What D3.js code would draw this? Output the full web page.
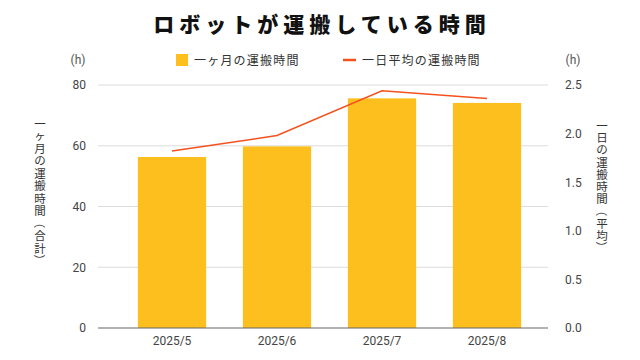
<!DOCTYPE html>
<html><head><meta charset="utf-8">
<script src="https://cdn.jsdelivr.net/npm/d3@7"></script>
<style>
html,body{margin:0;padding:0;background:#fff;}
svg{display:block;}
</style></head>
<body>
<svg id="chart" width="640" height="360"></svg>
<script>
const categories = ["2025/5", "2025/6", "2025/7", "2025/8"];
const monthlyHours = [56.3, 59.8, 75.6, 74.1];
const dailyAvgHours = [1.82, 1.98, 2.44, 2.36];
const leftTicks = [0, 20, 40, 60, 80];
const rightTicks = [0, 0.5, 1.0, 1.5, 2.0, 2.5];
const title = "ロボットが運搬している時間";
const barLabel = "一ヶ月の運搬時間";
const lineLabel = "一日平均の運搬時間";
const leftTitle = "一ヶ月の運搬時間（合計）";
const rightTitle = "一日の運搬時間（平均）";

const svg = d3.select("#chart");
const jp = "'Noto Sans CJK JP', 'Noto Sans', sans-serif";
const num = "Roboto, 'Liberation Sans', sans-serif";
const barColor = "#FCBF1E";
const lineColor = "#F4511E";

const plotL = 98, plotR = 548, plotT = 85, plotB = 328;
const x = d3.scaleBand().domain(categories).range([119.5, 539.5]).paddingInner(0.35).paddingOuter(0.175);
const yL = d3.scaleLinear().domain([0, 80]).range([plotB, plotT]);
const yR = d3.scaleLinear().domain([0, 2.5]).range([plotB, plotT]);

// title
svg.append("text").attr("x", 322).attr("y", 32).attr("text-anchor", "middle")
  .attr("font-family", jp).attr("font-weight", 900).attr("font-size", 21)
  .attr("letter-spacing", 5).attr("fill", "#111").text(title);

// gridlines
svg.append("g").selectAll("line").data(leftTicks.filter(d => d > 0)).join("line")
  .attr("x1", plotL).attr("x2", plotR)
  .attr("y1", d => yL(d)).attr("y2", d => yL(d))
  .attr("stroke", "#dcdcdc").attr("stroke-width", 1);

// left axis
const gL = svg.append("g").attr("transform", `translate(${plotL},0)`)
  .call(d3.axisLeft(yL).tickValues(leftTicks).tickSize(0).tickPadding(12));
gL.select(".domain").remove();
gL.selectAll("text").attr("font-family", num).attr("font-size", 12).attr("fill", "#444");

// right axis
const gR = svg.append("g").attr("transform", `translate(${plotR},0)`)
  .call(d3.axisRight(yR).tickValues(rightTicks).tickFormat(d3.format(".1f")).tickSize(0).tickPadding(17));
gR.select(".domain").remove();
gR.selectAll("text").attr("font-family", num).attr("font-size", 12).attr("fill", "#444");

// bars
svg.append("g").selectAll("rect").data(categories).join("rect")
  .attr("x", d => x(d)).attr("width", x.bandwidth())
  .attr("y", (d, i) => yL(monthlyHours[i]))
  .attr("height", (d, i) => yL(0) - yL(monthlyHours[i]))
  .attr("fill", barColor);

// baseline
svg.append("line").attr("x1", plotL).attr("x2", plotR).attr("y1", yL(0)).attr("y2", yL(0))
  .attr("stroke", "#666").attr("stroke-width", 1.2);

// line
const line = d3.line().x((d, i) => x(categories[i]) + x.bandwidth() / 2).y(d => yR(d));
svg.append("path").datum(dailyAvgHours).attr("d", line)
  .attr("fill", "none").attr("stroke", lineColor).attr("stroke-width", 1.5);

// x axis labels
const gX = svg.append("g").attr("transform", `translate(0,${plotB})`)
  .call(d3.axisBottom(x).tickSize(0).tickPadding(8));
gX.select(".domain").remove();
gX.selectAll("text").attr("font-family", num).attr("font-size", 12).attr("fill", "#444");

// (h) units
svg.append("text").attr("x", 78).attr("y", 64).attr("text-anchor", "middle")
  .attr("font-family", num).attr("font-size", 12).attr("fill", "#555").text("(h)");
svg.append("text").attr("x", 573).attr("y", 64).attr("text-anchor", "middle")
  .attr("font-family", num).attr("font-size", 12).attr("fill", "#555").text("(h)");

// legend
svg.append("rect").attr("x", 176).attr("y", 54).attr("width", 12).attr("height", 12).attr("fill", barColor);
svg.append("text").attr("x", 194).attr("y", 65).attr("font-family", jp).attr("font-size", 12)
  .attr("letter-spacing", 1.2).attr("fill", "#333").text(barLabel);
svg.append("line").attr("x1", 343).attr("x2", 356).attr("y1", 60).attr("y2", 60)
  .attr("stroke", lineColor).attr("stroke-width", 2.5);
svg.append("text").attr("x", 362).attr("y", 65).attr("font-family", jp).attr("font-size", 12)
  .attr("letter-spacing", 1.2).attr("fill", "#333").text(lineLabel);

// vertical axis titles, one character per step
function verticalTitle(str, cx, y0, step) {
  const g = svg.append("g");
  Array.from(str).forEach((ch, i) => {
    const cy = y0 + i * step;
    const t = g.append("text").attr("x", cx).attr("y", cy)
      .attr("text-anchor", "middle").attr("dominant-baseline", "central")
      .attr("font-family", jp).attr("font-size", 11.5).attr("fill", "#333").text(ch);
    if (ch === "（" || ch === "）") {
      t.attr("transform", `rotate(90,${cx},${cy})`);
    }
  });
}
verticalTitle(leftTitle, 40, 123, 12.45);
verticalTitle(rightTitle, 602, 125, 12.2);
</script>
</body></html>
